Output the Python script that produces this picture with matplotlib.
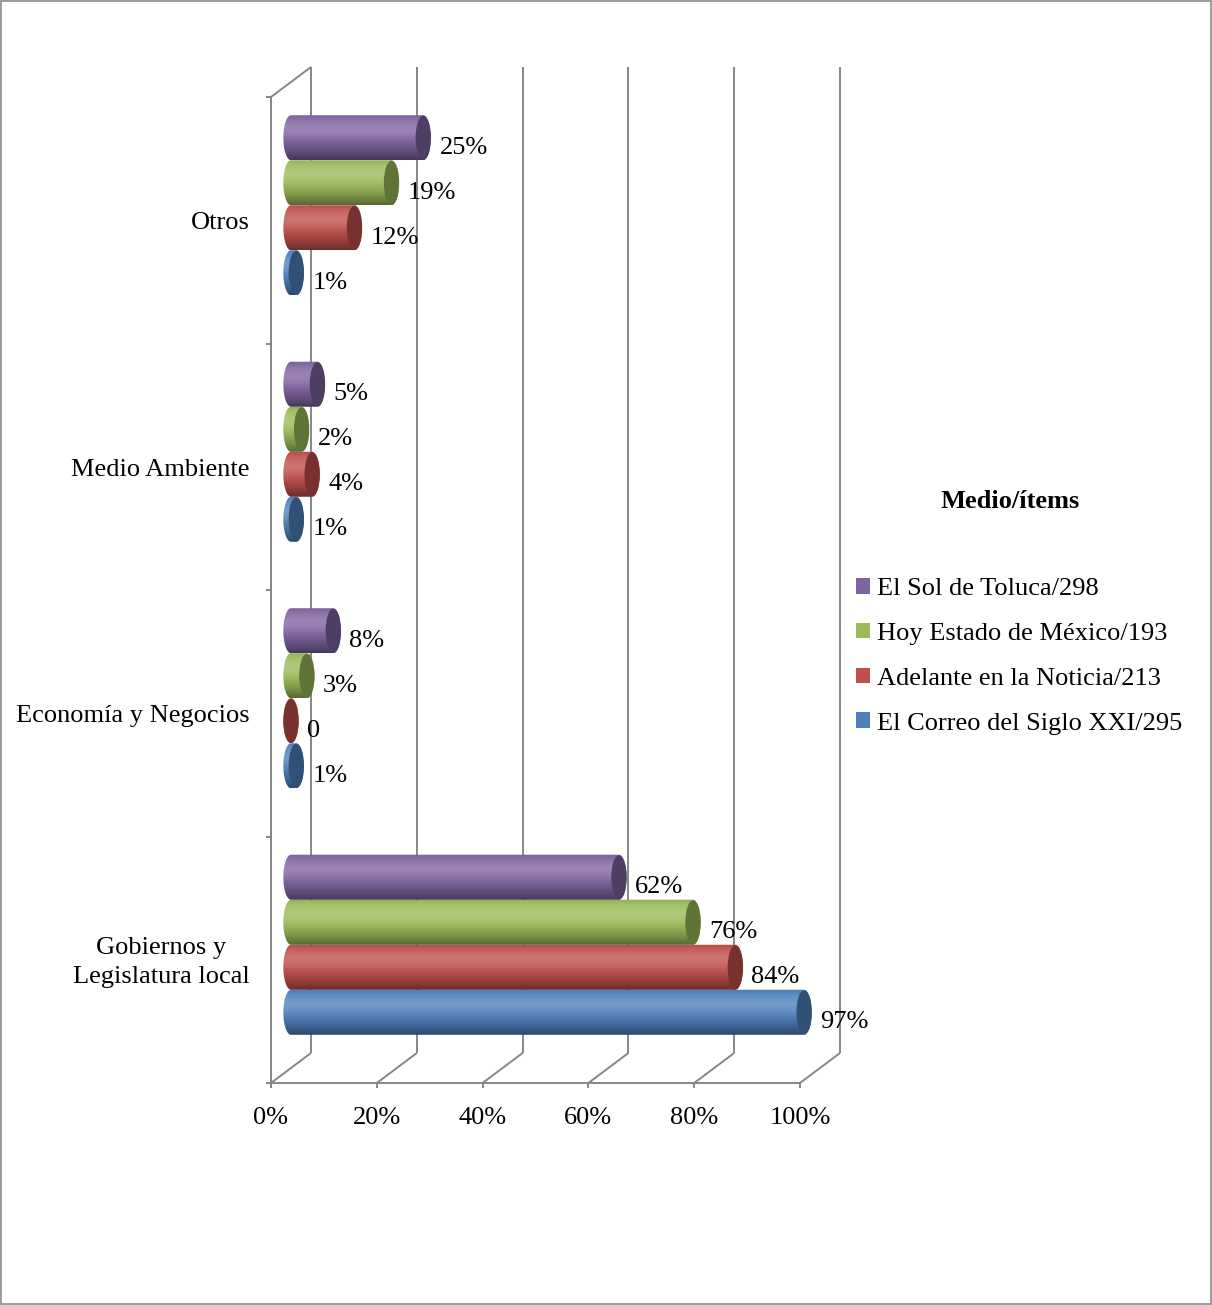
import matplotlib.pyplot as plt
import numpy as np
from matplotlib.patches import Ellipse, Patch, PathPatch, Rectangle
from matplotlib.path import Path
from matplotlib.colors import to_rgb

plt.rcParams["font.family"] = ["Liberation Serif", "DejaVu Serif"]
plt.rcParams["font.size"] = 19

# categories from bottom to top
categories = ["Gobiernos y\nLegislatura local", "Economía y Negocios", "Medio Ambiente", "Otros"]
series_names = [
    "El Correo del Siglo XXI/295",
    "Adelante en la Noticia/213",
    "Hoy Estado de México/193",
    "El Sol de Toluca/298",
]
correo = [97, 1, 1, 1]
adelante = [84, 0, 4, 12]
hoy = [76, 3, 2, 19]
sol = [62, 8, 5, 25]
series_values = [correo, adelante, hoy, sol]
series_colors = ["#4F81BD", "#C0504D", "#9BBB59", "#8064A2"]
x_ticks = [0, 20, 40, 60, 80, 100]

# pixel geometry of the plot (front plane: 0% at x=271, 100% at x=800; y 1083 -> 97)
W, H = 1212, 1305
px_x = 529 / 100.0
px_y = 246.5
x0_px, y0_px = 271, 1083
depth_x = 40 / px_x
depth_y = 30 / px_y
xlim = (-6, 116)
ylim = (-0.35, 4.35)

fig = plt.figure(figsize=(W / 100, H / 100), dpi=100)
left = (x0_px + xlim[0] * px_x) / W
bottom = (H - y0_px + ylim[0] * px_y) / H
ax = fig.add_axes([left, bottom, (xlim[1] - xlim[0]) * px_x / W, (ylim[1] - ylim[0]) * px_y / H])
ax.set_xlim(*xlim)
ax.set_ylim(*ylim)
ax.axis("off")

grid_kw = dict(color="#868686", lw=1.4, zorder=1, solid_capstyle="butt")
n_cat = len(categories)
# back wall gridlines and floor diagonals
for t in x_ticks:
    ax.plot([t + depth_x, t + depth_x], [depth_y, n_cat + depth_y], **grid_kw)
    ax.plot([t, t + depth_x], [0, depth_y], **grid_kw)
    ax.plot([t, t], [0, -0.022], **grid_kw)
    ax.text(t, -0.143, f"{t}%", ha="center", va="center")
ax.plot([0, 100], [0, 0], **grid_kw)
ax.plot([0, 0], [0, n_cat], **grid_kw)
ax.plot([0, depth_x], [n_cat, n_cat + depth_y], **grid_kw)
for c in range(n_cat + 1):
    ax.plot([-1.0, 0], [c, c], **grid_kw)

for c, name in enumerate(categories):
    ax.text(-4.1, c + 0.488, name, ha="right", va="center", multialignment="center",
            linespacing=1.42)


def shade(color, t):
    base = np.array(to_rgb(color))
    # lighten near the top third, darken towards the lower edge
    light = 0.2 * np.exp(-((t - 0.32) / 0.22) ** 2)
    dark = 0.45 * np.clip((t - 0.45) / 0.55, 0, 1) ** 1.6 + 0.08 * np.clip((0.12 - t) / 0.12, 0, 1)
    rgb = base + (1 - base) * light
    return np.clip(rgb * (1 - dark), 0, 1)


def cylinder_path(xa, xb, yc, h, rx):
    ang1 = np.linspace(np.pi / 2, 3 * np.pi / 2, 40)
    ang2 = np.linspace(-np.pi / 2, np.pi / 2, 40)
    left_pts = np.column_stack([xa + rx * np.cos(ang1), yc + h / 2 * np.sin(ang1)])
    right_pts = np.column_stack([xb + rx * np.cos(ang2), yc + h / 2 * np.sin(ang2)])
    verts = np.vstack([left_pts, right_pts, left_pts[:1]])
    codes = [Path.MOVETO] + [Path.LINETO] * (len(verts) - 2) + [Path.CLOSEPOLY]
    return Path(verts, codes)


bar_h = 0.1826
rx = 1.45
tt = np.linspace(0, 1, 200)
for i, (vals, color) in enumerate(zip(series_values, series_colors)):
    grad = np.array([shade(color, t) for t in tt])[:, None, :]
    cap = np.array(to_rgb(color)) * 0.62
    for c, v in enumerate(vals):
        yc = c + 0.5 + depth_y / 2 + (i - 1.5) * bar_h
        xa = depth_x / 2
        xb = v + depth_x / 2
        patch = PathPatch(cylinder_path(xa, xb, yc, bar_h, rx), facecolor="none",
                          edgecolor="none", transform=ax.transData)
        ax.add_patch(patch)
        im = ax.imshow(grad, extent=[xa - rx, xb + rx, yc - bar_h / 2, yc + bar_h / 2],
                       aspect="auto", origin="upper", interpolation="bilinear", zorder=3)
        im.set_clip_path(patch)
        ax.add_patch(Ellipse((xb, yc), 2 * rx, bar_h * 0.98, facecolor=cap,
                             edgecolor="none", zorder=4))
        label = "0" if v == 0 else f"{v}%"
        ax.text(xb + rx + 1.6, yc - 0.04, label, ha="left", va="center", zorder=5)

ax.set_xlim(*xlim)
ax.set_ylim(*ylim)

# legend
fig.text(1010 / W, 1 - 502 / H, "Medio/ítems", ha="center", va="center", fontweight="bold")
handles = [Patch(facecolor=series_colors[k], edgecolor="none") for k in range(3, -1, -1)]
labels = [series_names[k] for k in range(3, -1, -1)]
fig.legend(handles, labels, loc="upper left", bbox_to_anchor=(856 / W, 1 - 578 / H),
           frameon=False, borderpad=0, borderaxespad=0, handlelength=0.53,
           handleheight=0.53, handletextpad=0.25, labelspacing=0.86)

fig.add_artist(Rectangle((0.001, 0.001), 0.998, 0.998, transform=fig.transFigure,
                         fill=False, edgecolor="#8a8a8a", lw=1.2))
fig.savefig("out.png", dpi=100)
